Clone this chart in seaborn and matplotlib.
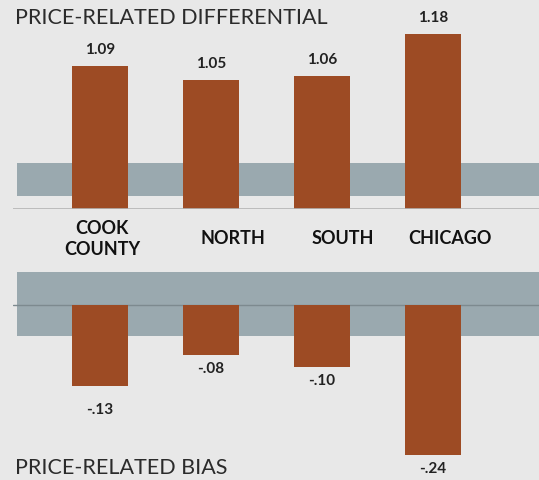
import numpy as np
import pandas as pd
import matplotlib
matplotlib.use("Agg")
import matplotlib.pyplot as plt
import seaborn as sns

# данные
regions = ["COOK\nCOUNTY", "NORTH", "SOUTH", "CHICAGO"]
prd_values = [1.09, 1.05, 1.06, 1.18]
prd_labels = ["1.09", "1.05", "1.06", "1.18"]
prb_values = [-0.13, -0.08, -0.10, -0.24]
prb_labels = ["-.13", "-.08", "-.10", "-.24"]
prd_band = [0.718, 0.811]   # светлая полоса на верхней панели
prb_band = [-0.05, 0.053]   # полоса на нижней панели

bg = "#e8e8e8"
bar_color = "#9d4b24"
band_color = "#9aa9af"

sns.set_style("white")
plt.rcParams["font.family"] = ["Lato", "DejaVu Sans"]

fig = plt.figure(figsize=(5.39, 4.8), dpi=100, facecolor=bg)
W, H = 539, 480

def px_axes(x0, y0, x1, y1):
    # координаты в пикселях (сверху вниз) -> доли фигуры
    return fig.add_axes([x0 / W, 1 - y1 / H, (x1 - x0) / W, (y1 - y0) / H])

xlim = ((13 - 100) / 111, (539 - 100) / 111)

# верхняя панель: PRD
ax1 = px_axes(13, 0, 539, 209)
ax1.set_facecolor(bg)
ax1.axhspan(prd_band[0], prd_band[1], xmin=4 / 526, xmax=1, color=band_color, lw=0, zorder=0)
df1 = pd.DataFrame({"region": regions, "value": prd_values})
sns.barplot(data=df1, x="region", y="value", ax=ax1, color=bar_color,
            width=0.5, saturation=1, edgecolor="none", zorder=2)
ax1.set_xlim(*xlim)
ax1.set_ylim(0.68, 0.68 + 209 / 350)
ax1.axhline(0.68, color="#b4b4b4", lw=1.2, zorder=3)
for i, (v, lab) in enumerate(zip(prd_values, prd_labels)):
    ax1.text(i, v + 16 / 350, lab, ha="center", va="center", fontsize=11,
             fontweight="bold", color="#222222")

# подписи регионов немного смещены вправо, как в оригинале
label_shift = [0.02, 0.2, 0.19, 0.15]
for i, r in enumerate(regions):
    ax1.text(i + label_shift[i], -30 / 209, r, transform=ax1.get_xaxis_transform(),
             ha="center", va="center", fontsize=13, fontweight="bold",
             family=["Liberation Sans Narrow", "Lato"], color="#111111",
             linespacing=1.3, clip_on=False)
ax1.set_xticks([])
ax1.set_yticks([])
ax1.set_xlabel("")
ax1.set_ylabel("")
sns.despine(ax=ax1, left=True, bottom=True)
fig.text(15 / W, 1 - 18 / H, "PRICE-RELATED DIFFERENTIAL", ha="left", va="center",
         fontsize=15.5, color="#2b2b2b")

# нижняя панель: PRB
ax2 = px_axes(13, 255, 539, 480)
ax2.set_facecolor(bg)
ax2.axhspan(prb_band[0], prb_band[1], xmin=4 / 526, xmax=1, color=band_color, lw=0, zorder=0)
df2 = pd.DataFrame({"region": regions, "value": prb_values})
sns.barplot(data=df2, x="region", y="value", ax=ax2, color=bar_color,
            width=0.5, saturation=1, edgecolor="none", zorder=2)
ax2.set_xlim(*xlim)
ax2.set_ylim(-(480 - 305) / 624, (305 - 255) / 624)
ax2.axhline(0, color="#7d8a8f", lw=1.0, zorder=1)
for i, (v, lab) in enumerate(zip(prb_values, prb_labels)):
    off = 24 if i == 0 else 14
    ax2.text(i, v - off / 624, lab, ha="center", va="center", fontsize=11,
             fontweight="bold", color="#222222")
ax2.set_xticks([])
ax2.set_yticks([])
ax2.set_xlabel("")
ax2.set_ylabel("")
sns.despine(ax=ax2, left=True, bottom=True)
fig.text(15 / W, 1 - 468 / H, "PRICE-RELATED BIAS", ha="left", va="center",
         fontsize=15.5, color="#2b2b2b")

fig.savefig("out.png", dpi=100, facecolor=bg)
